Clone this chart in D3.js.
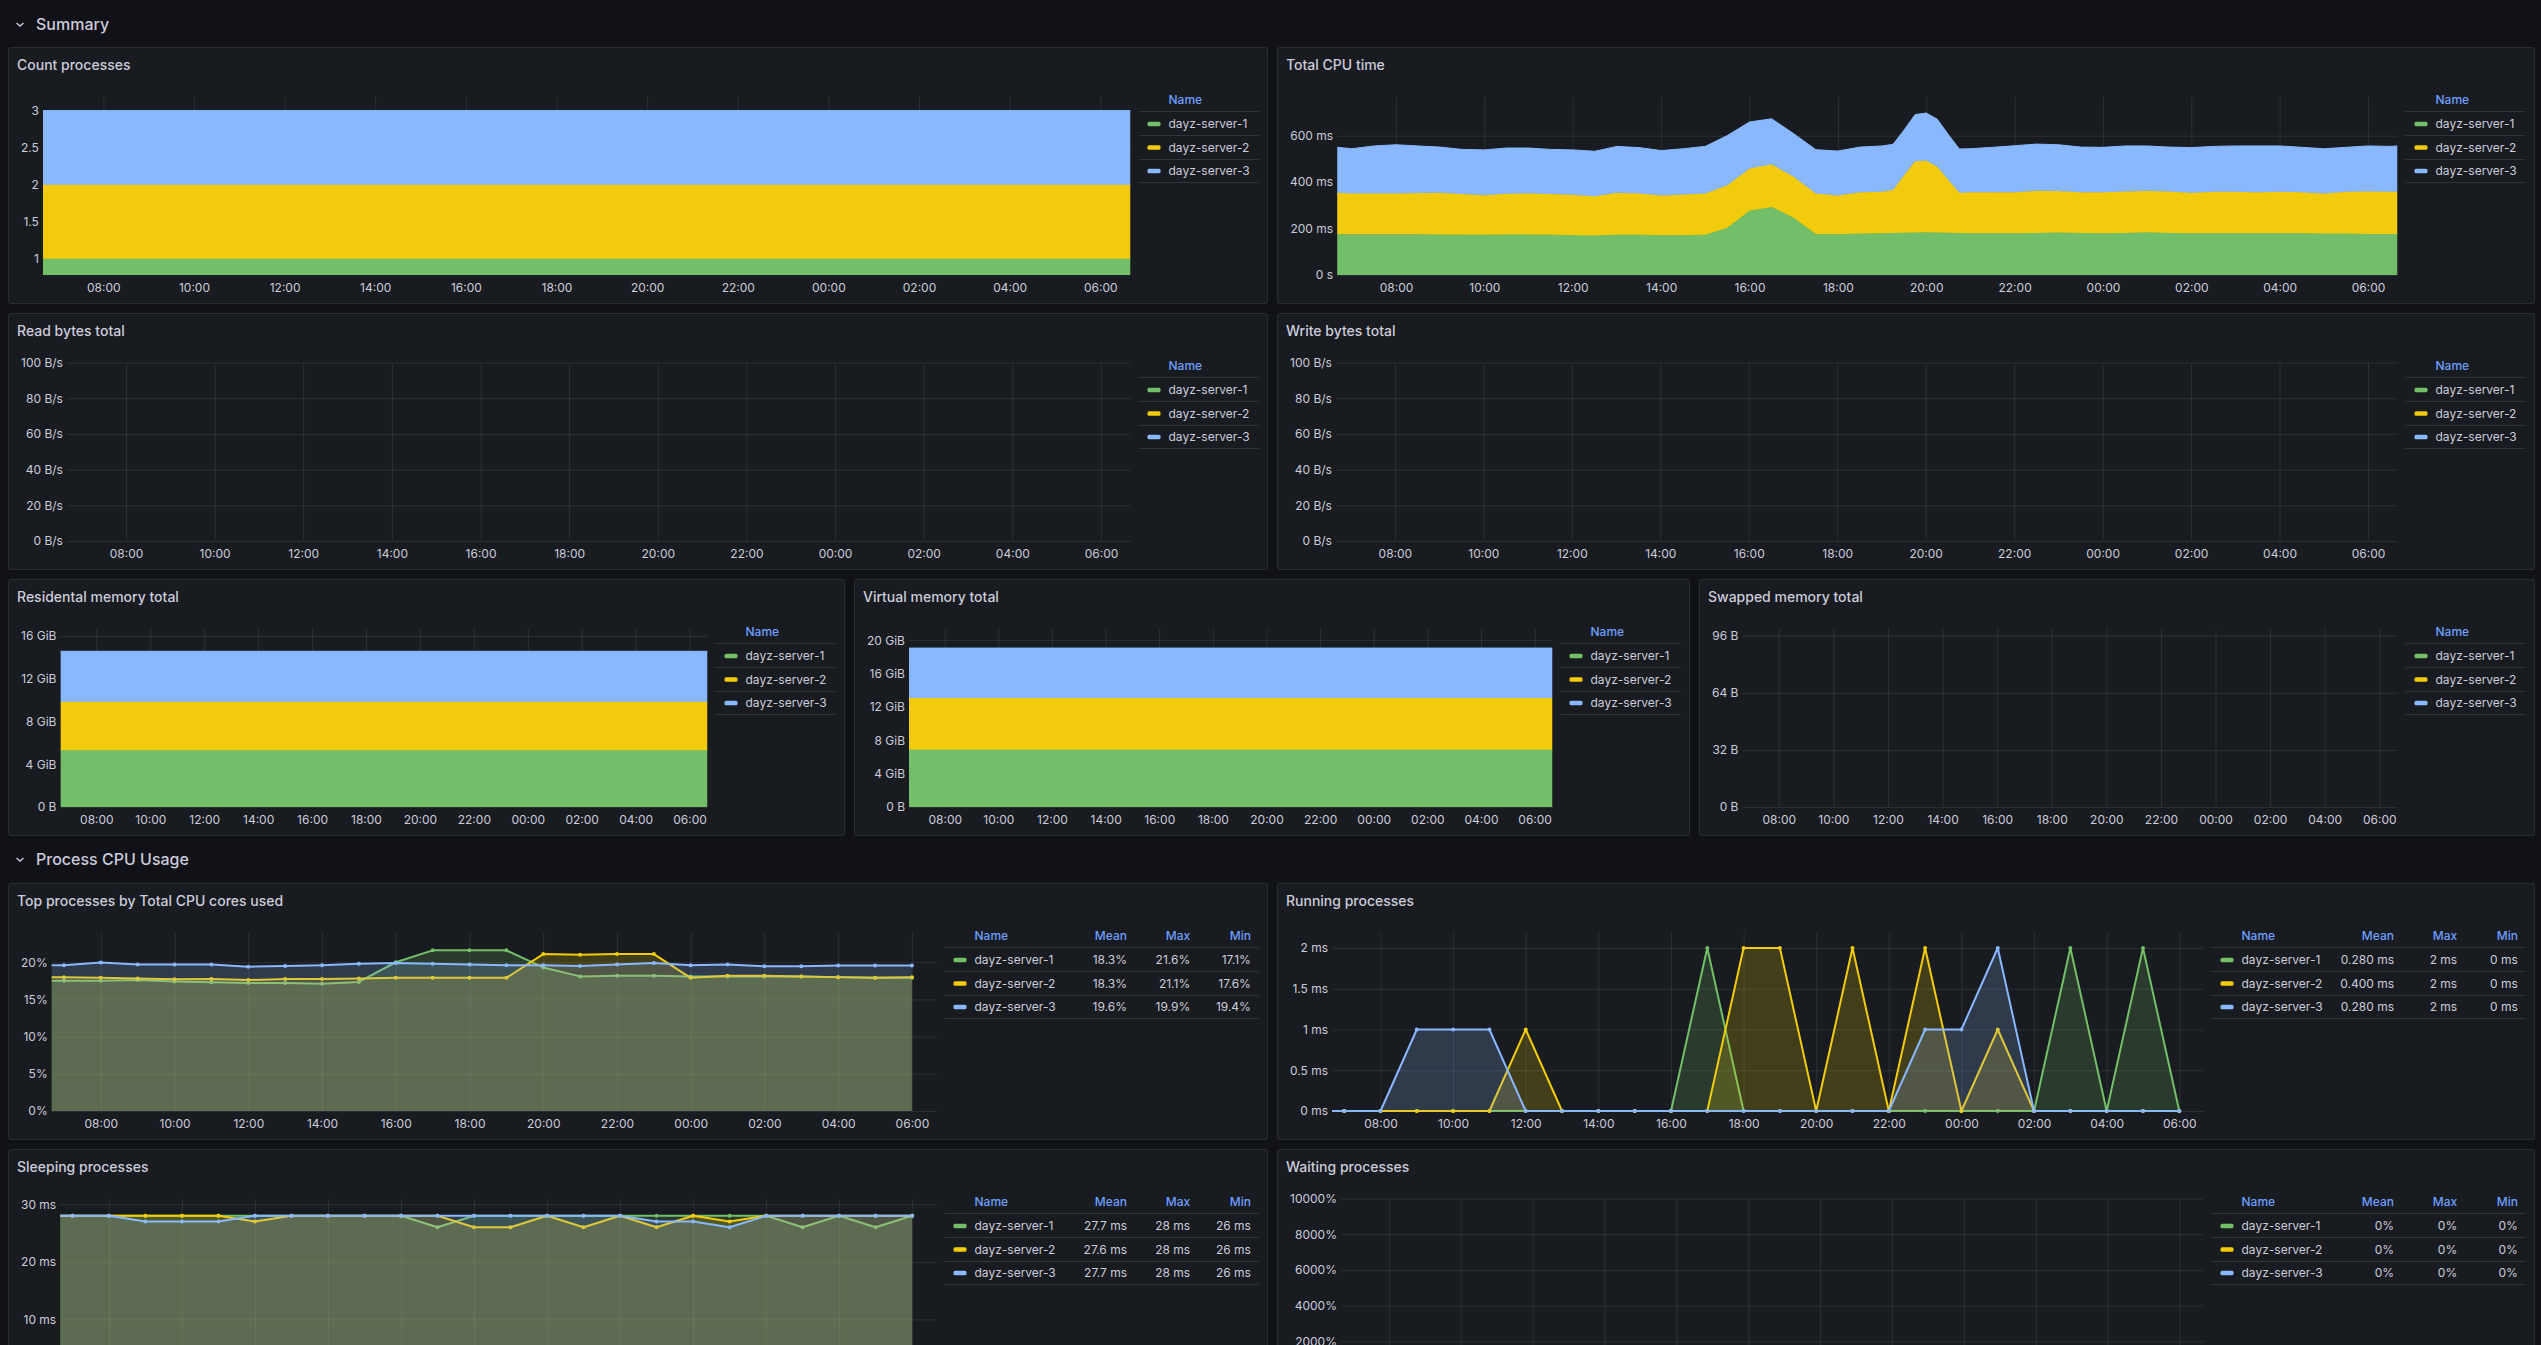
<!DOCTYPE html>
<html><head><meta charset="utf-8">
<script src="https://cdn.jsdelivr.net/npm/d3@7"></script>
<style>
html,body{margin:0;padding:0;background:#111217;overflow:hidden;}
svg{display:block;font-family:Inter,"Noto Sans",sans-serif;}
</style></head><body>
<svg id="c" width="2541" height="1345"></svg>
<script>
// ---------------- DATA ----------------
const seriesNames = ["dayz-server-1", "dayz-server-2", "dayz-server-3"];
const seriesColors = ["#73bf69", "#f2cc0c", "#8ab8ff"];
const rangeTimes = ["06:40", "06:40"];

const flatTimes = ["06:40", "06:40"];
const countS1 = [1, 1];
const countS2 = [1, 1];
const countS3 = [1, 1];

const cpuTimes = ["06:40","07:00","07:30","08:00","08:30","09:00","09:30","10:00","10:30","11:00","11:30","12:00","12:30","13:00","13:30","14:00","14:30","15:00","15:30","16:00","16:30","17:00","17:30","18:00","18:30","19:00","19:15","19:30","19:45","20:00","20:15","20:30","20:45","21:00","21:30","22:00","22:30","23:00","23:30","00:00","00:30","01:00","01:30","02:00","02:30","03:00","03:30","04:00","04:30","05:00","05:30","06:00","06:30","06:40"];
const cpuS1 = [176,176,176,176,176,174,173,173,174,174,173,171,170,173,173,171,171,173,204,277,293,247,177,176,179,180,181,182,183,184,183,182,181,180,180,180,181,183,181,180,181,184,181,180,180,180,180,180,180,179,179,177,177,177];
const cpuS2 = [178,175,175,175,177,180,176,171,176,177,176,175,169,181,178,172,176,178,183,182,184,176,174,167,178,179,185,248,307,309,283,228,173,176,177,177,182,179,176,176,179,179,179,174,179,179,177,179,176,172,180,183,182,182];
const cpuS3 = [196,193,205,210,203,197,192,195,197,196,192,193,194,200,198,193,197,203,214,200,196,186,189,191,194,197,197,195,201,205,205,195,189,188,193,200,201,199,194,194,196,193,191,195,195,197,199,197,194,193,191,196,195,197];

const readS1 = [], readS2 = [], readS3 = [];
const writeS1 = [], writeS2 = [], writeS3 = [];
const swapS1 = [], swapS2 = [], swapS3 = [];

const resS1 = [5.30, 5.30];
const resS2 = [4.55, 4.55];
const resS3 = [4.72, 4.72];
const virtS1 = [6.87, 6.87];
const virtS2 = [6.19, 6.19];
const virtS3 = [5.99, 5.99];

const hourTimes = ["06:00","07:00","08:00","09:00","10:00","11:00","12:00","13:00","14:00","15:00","16:00","17:00","18:00","19:00","20:00","21:00","22:00","23:00","00:00","01:00","02:00","03:00","04:00","05:00","06:00"];
const topS1 = [17.5,17.5,17.5,17.6,17.4,17.3,17.2,17.2,17.1,17.35,20.0,21.6,21.6,21.6,19.3,18.1,18.2,18.2,18.1,18.1,18.1,18.1,18.0,17.9,17.9];
const topS2 = [18.0,18.0,17.9,17.8,17.7,17.75,17.6,17.75,17.75,17.8,17.9,17.9,17.9,17.9,21.1,21.0,21.1,21.1,17.9,18.2,18.2,18.1,18.0,17.9,18.0];
const topS3 = [19.6,19.6,19.95,19.7,19.7,19.7,19.4,19.5,19.6,19.8,19.9,19.8,19.7,19.6,19.6,19.5,19.7,19.9,19.6,19.7,19.45,19.45,19.55,19.55,19.55];
const topMean = ["18.3%", "18.3%", "19.6%"];
const topMax = ["21.6%", "21.1%", "19.9%"];
const topMin = ["17.1%", "17.6%", "19.4%"];

const runS1 = [0,0,0,0,0,0,0,0,0,0,0,2,0,0,0,0,0,0,0,0,0,2,0,2,0];
const runS2 = [0,0,0,0,0,0,1,0,0,0,0,0,2,2,0,2,0,2,0,1,0,0,0,0,0];
const runS3 = [0,0,0,1,1,1,0,0,0,0,0,0,0,0,0,0,0,1,1,2,0,0,0,0,0];
const runMean = ["0.280 ms", "0.400 ms", "0.280 ms"];
const runMax = ["2 ms", "2 ms", "2 ms"];
const runMin = ["0 ms", "0 ms", "0 ms"];

const sleepS1 = [28,28,28,28,28,28,28,28,28,28,28,26,28,28,28,28,28,28,28,28,28,26,28,26,28];
const sleepS2 = [28,28,28,28,28,28,27,28,28,28,28,28,26,26,28,26,28,26,28,27,28,28,28,28,28];
const sleepS3 = [28,28,28,27,27,27,28,28,28,28,28,28,28,28,28,28,28,27,27,26,28,28,28,28,28];
const sleepMean = ["27.7 ms", "27.6 ms", "27.7 ms"];
const sleepMax = ["28 ms", "28 ms", "28 ms"];
const sleepMin = ["26 ms", "26 ms", "26 ms"];

const waitS1 = [0,0,0,0,0,0,0,0,0,0,0,0,0,0,0,0,0,0,0,0,0,0,0,0,0];
const waitS2 = [0,0,0,0,0,0,0,0,0,0,0,0,0,0,0,0,0,0,0,0,0,0,0,0,0];
const waitS3 = [0,0,0,0,0,0,0,0,0,0,0,0,0,0,0,0,0,0,0,0,0,0,0,0,0];
const waitMean = ["0%", "0%", "0%"];
const waitMax = ["0%", "0%", "0%"];
const waitMin = ["0%", "0%", "0%"];

// ---------------- RENDER ----------------
const VIEW_H = 1345;
const svg = d3.select("#c");
const TEXT = "#ccccdc";
const HEAD = "#6e9fff";
const GRID = "rgba(240,250,255,0.09)";
const BORDER = "rgba(204,204,220,0.12)";
const SEP = "rgba(204,204,220,0.15)";

function parseTimes(arr) {
  let day = 1, prev = -1;
  return arr.map((s, i) => {
    const [h, m] = s.split(":").map(Number);
    const mins = h * 60 + m;
    if (i > 0 && mins <= prev) day++;
    prev = mins;
    return new Date(2024, 0, day, h, m);
  });
}
const rangeDates = parseTimes(rangeTimes);

function section(title, baseline) {
  const c = baseline - 5.5;
  svg.append("path")
    .attr("d", `M16.5,${c - 1.6} L20,${c + 1.6} L23.5,${c - 1.6}`)
    .attr("fill", "none").attr("stroke", TEXT).attr("stroke-width", 1.3);
  svg.append("text").attr("x", 36).attr("y", baseline)
    .attr("fill", TEXT).attr("font-size", 16).attr("font-weight", 500).text(title);
}

let clipN = 0;
function drawPanel(p) {
  const g = svg.append("g");
  g.append("rect").attr("x", p.x + 0.5).attr("y", p.y + 0.5)
    .attr("width", p.w - 1).attr("height", p.h - 1).attr("rx", 2)
    .attr("fill", "#181b1f").attr("stroke", BORDER);
  g.append("text").attr("x", p.x + 9).attr("y", p.y + 22.5)
    .attr("fill", TEXT).attr("font-size", 14).attr("font-weight", 500).text(p.title);

  const legendW = p.stats ? 314 : 120;
  const legendRight = p.x + p.w - 9.5;
  const legendLeft = legendRight - legendW;
  const plotRight = legendLeft - 8;
  const plotTop = p.y + 49.5, plotBottom = p.y + 228;

  const meas = g.append("text").attr("font-size", 12);
  let maxW = 0;
  p.yTicks.forEach(v => { meas.text(p.yFmt(v)); maxW = Math.max(maxW, meas.node().getComputedTextLength()); });
  meas.remove();
  const plotLeft = p.x + maxW + 17;

  const xs = d3.scaleTime().domain(rangeDates).range([plotLeft, plotRight]);
  const ys = d3.scaleLinear().domain(p.yDomain).range([plotBottom, plotTop]);
  const xTicks = xs.ticks(d3.timeHour.every(2));
  // labels whose tick line lies below the visible window are not drawn
  const yLabelTicks = p.yTicks.filter(v => ys(v) < VIEW_H - 2);

  // grid
  g.append("g").attr("transform", `translate(0,${plotBottom})`)
    .call(d3.axisBottom(xs).tickValues(xTicks).tickSize(-(plotBottom - plotTop)).tickFormat(""))
    .call(a => { a.select(".domain").remove(); a.selectAll("line").attr("stroke", GRID); });
  g.append("g").attr("transform", `translate(${plotLeft},0)`)
    .call(d3.axisLeft(ys).tickValues(p.yTicks).tickSize(-(plotRight - plotLeft)).tickFormat(""))
    .call(a => { a.select(".domain").remove(); a.selectAll("line").attr("stroke", GRID); });

  // axes labels
  if (plotBottom + 19 < VIEW_H) {
    g.append("g").attr("transform", `translate(0,${plotBottom})`)
      .call(d3.axisBottom(xs).tickValues(xTicks).tickSize(0).tickPadding(8.5).tickFormat(d3.timeFormat("%H:%M")))
      .call(a => { a.select(".domain").remove(); a.attr("font-size", 12).attr("font-family", null); a.selectAll("text").attr("fill", TEXT); });
  }
  g.append("g").attr("transform", `translate(${plotLeft},0)`)
    .call(d3.axisLeft(ys).tickValues(yLabelTicks).tickSize(0).tickPadding(4).tickFormat(p.yFmt))
    .call(a => { a.select(".domain").remove(); a.attr("font-size", 12).attr("font-family", null); a.selectAll("text").attr("fill", TEXT); });

  // series
  const cid = "clip" + (clipN++);
  const pad = p.mode === "stack" ? 0 : 2;
  g.append("clipPath").attr("id", cid).append("rect")
    .attr("x", plotLeft).attr("y", plotTop - pad)
    .attr("width", plotRight - plotLeft).attr("height", plotBottom - plotTop + 2 * pad);
  const plot = g.append("g").attr("clip-path", `url(#${cid})`);

  if (p.times && p.series.some(s => s.length)) {
    const times = parseTimes(p.times);
    if (p.mode === "stack") {
      let cum = times.map(() => 0);
      p.series.forEach((vals, i) => {
        const pts = times.map((t, j) => ({ t, lo: cum[j], hi: cum[j] + vals[j] }));
        cum = pts.map(d => d.hi);
        plot.append("path").datum(pts)
          .attr("d", d3.area().x(d => xs(d.t)).y0(d => ys(d.lo)).y1(d => ys(d.hi)))
          .attr("fill", seriesColors[i]);
        plot.append("path").datum(pts)
          .attr("d", d3.line().x(d => xs(d.t)).y(d => ys(d.hi)))
          .attr("fill", "none").attr("stroke", seriesColors[i]).attr("stroke-width", 1);
      });
    } else {
      p.series.forEach((vals, i) => {
        const pts = times.map((t, j) => ({ t, v: vals[j] }));
        plot.append("path").datum(pts)
          .attr("d", d3.area().x(d => xs(d.t)).y0(ys(0)).y1(d => ys(d.v)))
          .attr("fill", seriesColors[i]).attr("fill-opacity", 0.2);
        plot.append("path").datum(pts)
          .attr("d", d3.line().x(d => xs(d.t)).y(d => ys(d.v)))
          .attr("fill", "none").attr("stroke", seriesColors[i]).attr("stroke-width", 2)
          .attr("stroke-linejoin", "round");
        plot.selectAll(null).data(pts).join("circle")
          .attr("cx", d => xs(d.t)).attr("cy", d => ys(d.v)).attr("r", 2)
          .attr("fill", seriesColors[i]);
      });
    }
  }

  // legend
  const lg = g.append("g").attr("font-size", 12);
  const rowY = [77, 100.5, 124].map(d => p.y + d);
  lg.append("text").attr("x", legendLeft + 30).attr("y", p.y + 53).attr("dy", "0.35em")
    .attr("fill", HEAD).attr("font-weight", 500).text("Name");
  const colRight = [182.5, 245.7, 306.4];
  if (p.stats) {
    ["Mean", "Max", "Min"].forEach((h, k) => {
      lg.append("text").attr("x", legendLeft + colRight[k]).attr("y", p.y + 53).attr("dy", "0.35em")
        .attr("text-anchor", "end").attr("fill", HEAD).attr("font-weight", 500).text(h);
    });
  }
  [64.5, 88.5, 112.5, 135.5].forEach(d => {
    lg.append("line").attr("x1", legendLeft).attr("x2", legendRight)
      .attr("y1", p.y + d).attr("y2", p.y + d).attr("stroke", SEP);
  });
  seriesNames.forEach((n, i) => {
    lg.append("rect").attr("x", legendLeft + 9).attr("y", rowY[i] - 2.2)
      .attr("width", 13).attr("height", 4.4).attr("rx", 1.5).attr("fill", seriesColors[i]);
    lg.append("text").attr("x", legendLeft + 30).attr("y", rowY[i]).attr("dy", "0.35em")
      .attr("fill", TEXT).text(n);
    if (p.stats) {
      p.stats.forEach((col, k) => {
        lg.append("text").attr("x", legendLeft + colRight[k]).attr("y", rowY[i]).attr("dy", "0.35em")
          .attr("text-anchor", "end").attr("fill", TEXT).text(col[i]);
      });
    }
  });
}

const msFmt = v => v === 0 ? "0 s" : v + " ms";
const bpsFmt = v => v + " B/s";
const gibFmt = v => v === 0 ? "0 B" : v + " GiB";

section("Summary", 30);

drawPanel({ x: 8, y: 47, w: 1260, h: 257, title: "Count processes", mode: "stack",
  times: flatTimes, series: [countS1, countS2, countS3],
  yDomain: [0.78, 3.19], yTicks: [1, 1.5, 2, 2.5, 3], yFmt: v => String(v) });
drawPanel({ x: 1277, y: 47, w: 1258, h: 257, title: "Total CPU time", mode: "stack",
  times: cpuTimes, series: [cpuS1, cpuS2, cpuS3],
  yDomain: [0, 769], yTicks: [0, 200, 400, 600], yFmt: msFmt });

drawPanel({ x: 8, y: 313, w: 1260, h: 257, title: "Read bytes total", mode: "line",
  times: null, series: [readS1, readS2, readS3],
  yDomain: [0, 100], yTicks: [0, 20, 40, 60, 80, 100], yFmt: bpsFmt });
drawPanel({ x: 1277, y: 313, w: 1258, h: 257, title: "Write bytes total", mode: "line",
  times: null, series: [writeS1, writeS2, writeS3],
  yDomain: [0, 100], yTicks: [0, 20, 40, 60, 80, 100], yFmt: bpsFmt });

drawPanel({ x: 8, y: 579, w: 837, h: 257, title: "Residental memory total", mode: "stack",
  times: flatTimes, series: [resS1, resS2, resS3],
  yDomain: [0, 16.7], yTicks: [0, 4, 8, 12, 16], yFmt: gibFmt });
drawPanel({ x: 854, y: 579, w: 836, h: 257, title: "Virtual memory total", mode: "stack",
  times: flatTimes, series: [virtS1, virtS2, virtS3],
  yDomain: [0, 21.4], yTicks: [0, 4, 8, 12, 16, 20], yFmt: gibFmt });
drawPanel({ x: 1699, y: 579, w: 836, h: 257, title: "Swapped memory total", mode: "line",
  times: null, series: [swapS1, swapS2, swapS3],
  yDomain: [0, 100], yTicks: [0, 32, 64, 96], yFmt: v => v + " B" });

section("Process CPU Usage", 865);

drawPanel({ x: 8, y: 883, w: 1260, h: 257, title: "Top processes by Total CPU cores used", mode: "line",
  times: hourTimes, series: [topS1, topS2, topS3], stats: [topMean, topMax, topMin],
  yDomain: [0, 24], yTicks: [0, 5, 10, 15, 20], yFmt: v => v + "%" });
drawPanel({ x: 1277, y: 883, w: 1258, h: 257, title: "Running processes", mode: "line",
  times: hourTimes, series: [runS1, runS2, runS3], stats: [runMean, runMax, runMin],
  yDomain: [0, 2.19], yTicks: [0, 0.5, 1, 1.5, 2], yFmt: v => v + " ms" });
drawPanel({ x: 8, y: 1149, w: 1260, h: 257, title: "Sleeping processes", mode: "line",
  times: hourTimes, series: [sleepS1, sleepS2, sleepS3], stats: [sleepMean, sleepMax, sleepMin],
  yDomain: [0, 31], yTicks: [0, 10, 20, 30], yFmt: v => v + " ms" });
drawPanel({ x: 1277, y: 1149, w: 1258, h: 257, title: "Waiting processes", mode: "line",
  times: hourTimes, series: [waitS1, waitS2, waitS3], stats: [waitMean, waitMax, waitMin],
  yDomain: [0, 10000], yTicks: [0, 2000, 4000, 6000, 8000, 10000], yFmt: v => v + "%" });
</script>
</body></html>
